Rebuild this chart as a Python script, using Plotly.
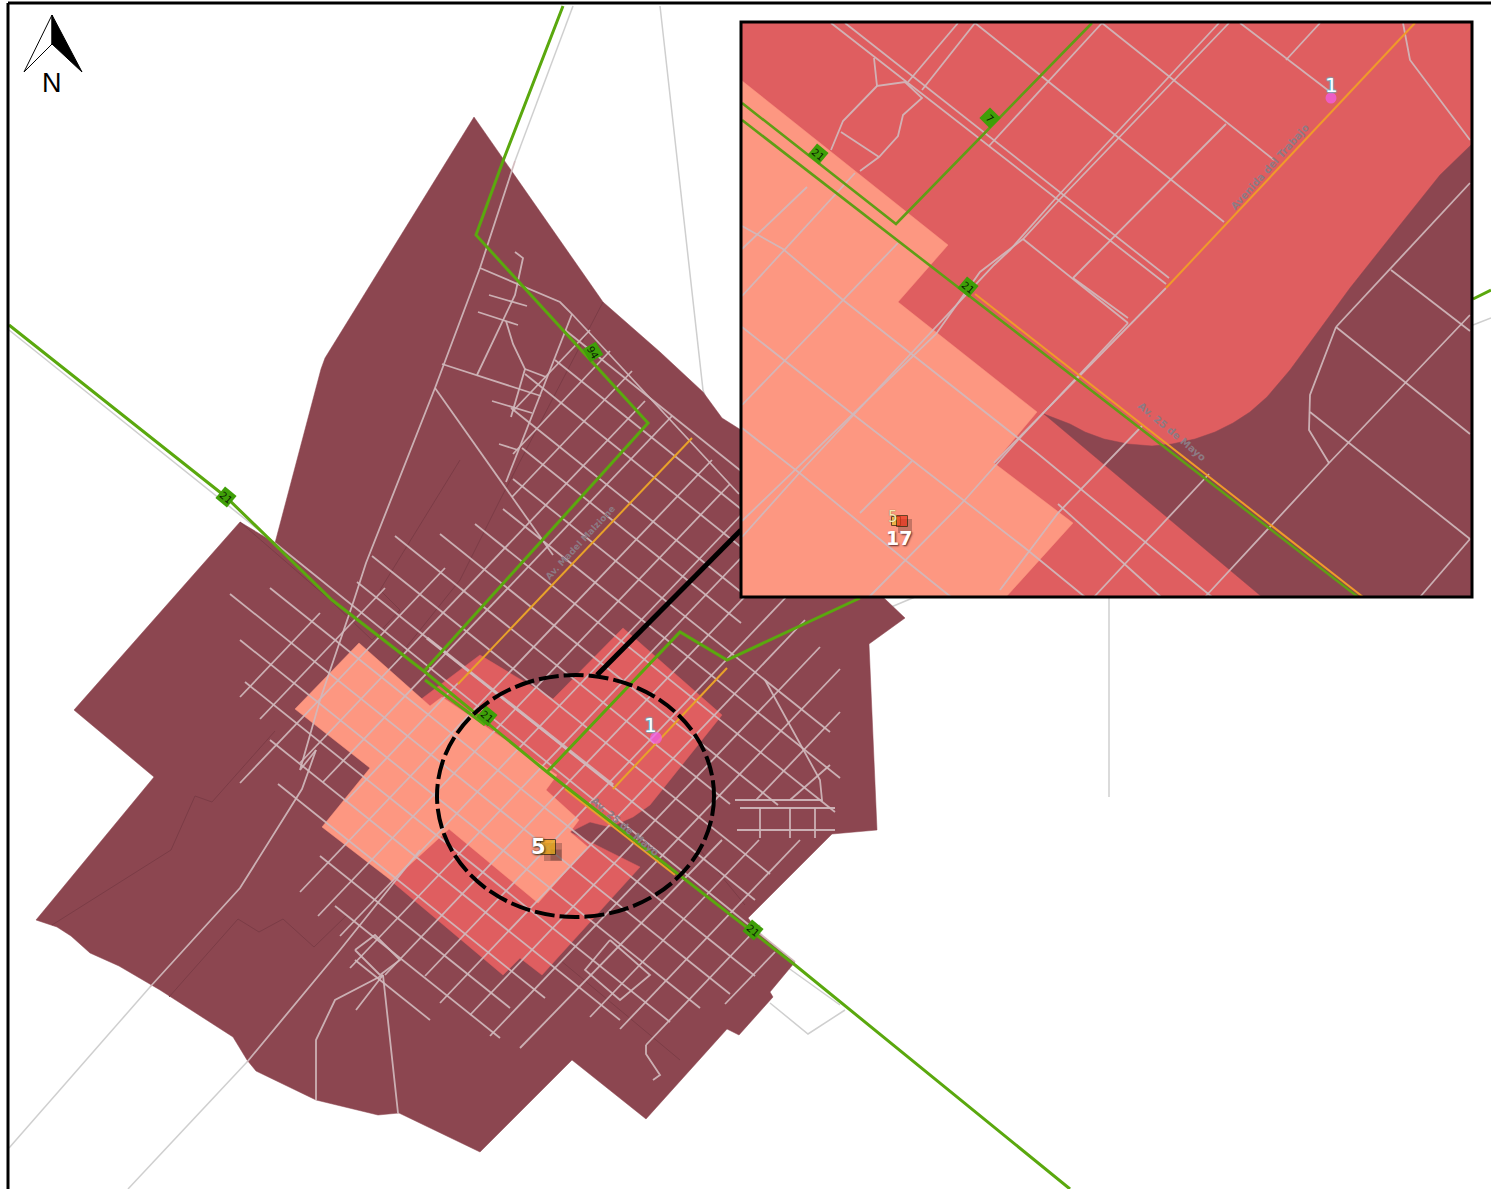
import plotly.graph_objects as go

# ---------- map data, in sheet units (x right, y down) ----------
CITY = [474,117, 540,212, 603,302, 660,352, 703,392, 722,418, 741,430, 800,500, 884,598, 905,618,
        869,644, 877,830, 832,834, 748,918, 763,937, 795,962, 770,992, 773,997, 753,1020, 739,1035,
        727,1029, 646,1119, 572,1060, 480,1152, 399,1113, 378,1115, 316,1100, 256,1071, 247,1060,
        233,1037, 160,990, 119,966, 90,953, 71,936, 57,927, 36,920, 154,777, 74,710, 240,522, 275,543,
        321,369, 325,358]
RED_MAIN = [480,655, 553,699, 623,628, 722,715, 698,745, 650,805, 633,817, 610,827, 590,822, 570,832,
            640,867, 542,975, 520,958, 503,975, 390,880, 420,700]
SALMON_MAIN = [359,643, 430,706, 442,697, 557,775, 546,790, 579,820, 570,832, 588,847, 538,903, 449,829,
               392,881, 322,827, 370,768, 295,709]
INSET_BOX = [741,22, 1472,22, 1472,597, 741,597]
INSET_DARK = [1472,144, 1440,175, 1400,225, 1350,288, 1290,370, 1267,397, 1250,412, 1233,423, 1215,432,
              1195,439, 1172,444, 1152,446, 1128,444, 1104,439, 1085,432, 1070,424, 1044,414, 1262,597, 1472,597]
INSET_SALMON = [741,80, 948,245, 898,302, 1037,412, 994,463, 1073,523, 1006,597, 741,597]
NORTH_LEFT = [52,15, 24,72, 52,44]
NORTH_RIGHT = [52,15, 82,72, 52,44]

FAINT = [
    [52,925, 171,850, 195,796, 212,802, 275,731],
    [169,997, 238,919, 259,932, 283,919, 314,947, 347,915],
    [388,670, 460,580, 500,500, 603,302],
    [240,522, 330,600, 372,640, 400,610, 380,590, 460,460],
    [425,710, 495,770, 440,840],
    [700,850, 745,905],
    [560,960, 680,1060],
]
OUTER_ROADS = [
    [573,6, 515,161],
    [660,6, 703,390, 739,494],
    [1109,598, 1109,797],
    [1473,325, 1491,318],
    [884,610, 915,597],
    [9,1148, 150,987],
    [128,1189, 247,1062],
    [787,967, 840,1005],
    [770,1003, 808,1034, 845,1010],
    [9,330, 226,503, 275,543],
]
ROADS = [
    [515,161, 480,268, 444,364, 435,388, 366,563, 354,600, 320,700, 300,770, 316,750],
    [435,388, 515,501, 553,555],
    [480,268, 560,302, 572,314, 739,494],
    [515,252, 523,258, 515,295, 477,375],
    [489,295, 527,306], [478,312, 518,325],
    [506,321, 513,344, 525,369, 511,417],
    [572,314, 506,482],
    [442,364, 541,396], [492,401, 532,413], [525,369, 546,377], [499,444, 518,450],
    [275,543, 795,962],
    [247,1062, 340,950, 420,850],
    [150,987, 240,888, 302,789, 316,750],
    [356,1010, 383,975, 398,1113],
    [316,1100, 316,1040, 335,1000, 383,975],
    [355,950, 375,935, 400,960, 380,975, 355,950],
    [740,808, 835,808], [737,830, 835,830], [760,808, 760,838], [790,808, 790,838], [815,808, 815,838],
    [735,800, 822,800, 820,780, 765,680],
    [646,1045, 646,1054, 660,1075, 653,1080],
    [610,940, 650,975, 620,1000, 585,970, 610,940],
]
# streets running north-west to south-east
CROSS_NW_SE = [
    [565,330, 741,471], [555,360, 741,509], [525,374, 741,547], [511,408, 741,592], [522,448, 741,623],
    [513,479, 830,732], [503,509, 840,778], [475,524, 835,812], [440,534, 778,805], [395,536, 730,804],
    [372,556, 770,874], [357,582, 755,900],
    [270,588, 755,976], [230,594, 730,994], [240,640, 700,1008], [245,682, 670,1022], [270,740, 620,1020],
    [278,784, 545,998], [320,856, 510,1008], [335,906, 500,1038], [355,960, 430,1020],
]
# streets running north-east to south-west
CROSS_NE_SW = [
    [590,330, 513,411], [610,351, 513,454], [632,371, 512,497], [645,401, 300,763], [672,416, 323,782],
    [458,683, 345,802], [712,460, 300,892], [730,484, 318,916], [745,511, 340,936], [760,538, 350,968],
    [775,565, 385,975], [790,593, 425,976], [805,620, 440,1003], [820,647, 470,1015], [840,669, 490,1036],
    [840,712, 756,800], [722,840, 520,1048], [830,765, 790,800], [759,840, 590,1017], [800,840, 620,1029],
    [760,925, 646,1045], [775,952, 725,1004],
    [445,568, 240,783], [385,588, 260,719], [320,613, 240,697],
]
MAIN_BOLD = [[427,638, 613,785]]
HIGHWAYS = [
    [9,325, 226,497, 332,600, 425,672, 547,772, 795,965, 1070,1189],
    [563,6, 503,161, 476,235, 648,423, 425,670],
    [547,772, 680,632, 727,660, 860,598],
    [1473,299, 1491,290],
    [425,680, 485,725],
]
ORANGE = [[692,438, 458,684], [727,668, 613,789], [565,789, 675,875]]
LEADER = [597,675, 741,530]

INSET_STREETS = [
    [831,23, 1166,284], [845,23, 1169,278], [975,23, 1224,222], [1102,23, 1274,160], [1240,23, 1329,91],
    [1023,239, 1128,323], [1073,278, 1128,318],
    [1229,23, 1061,198, 1023,239, 980,272, 936,334, 742,521],
    [1219,23, 1056,198, 1010,250, 994,265, 802,470, 742,537],
    [975,23, 922,90], [958,23, 908,82],
    [1102,23, 989,146], [1226,124, 1073,278], [1320,23, 1286,60],
    [1166,288, 994,463], [1128,323, 1018,440, 963,502, 905,560, 869,597],
    [1470,183, 1336,327], [1470,315, 1329,463, 1205,597],
    [1391,270, 1470,331], [1336,327, 1470,434], [1310,412, 1470,539], [1470,539, 1420,597],
    [1336,327, 1310,395, 1309,430, 1329,463],
    [742,226, 783,249, 843,300, 1037,453, 1212,597], [742,327, 850,412, 1025,548, 1085,597],
    [742,428, 802,475, 905,560, 951,597],
    [855,173, 742,296], [807,187, 742,249], [898,243, 742,405], [912,461, 860,513],
    [1142,426, 1058,513, 1000,590], [1209,474, 1094,597],
    [1058,504, 1161,597],
    [874,58, 877,86, 905,82, 922,98, 903,115, 898,136, 879,157, 860,171],
    [877,86, 843,121, 831,150], [841,132, 879,157],
    [1403,23, 1410,60, 1470,140],
]
INSET_HIGHWAYS = [[742,103, 896,224, 1092,23], [742,120, 1358,597]]
INSET_ORANGE = [[1415,23, 1166,288], [975,294, 1363,597]]

SHIELD_X = [226, 593, 487, 753, 818, 990, 968]
SHIELD_Y = [497, 352, 716, 930, 154, 118, 287]
SHIELD_TEXT = ["21", "94", "21", "21", "21", "7", "21"]
SHIELD_ANGLE = [40, 60, 40, 40, 40, 45, 40]
STREET_LABELS = [
    ("Av. Madel Malzione", 580, 543, -47, 9),
    ("Av. 25 de Mayo", 625, 826, 40, 10),
    ("Avenida del Trabajo", 1269, 167, -48, 10),
    ("Av. 25 de Mayo", 1172, 431, 40, 10),
]
COUNTS = [("1", 650, 725, 20, "#ffffff", "0 0 2px #22e0ff, 0 0 2px #22e0ff", "normal"),
          ("1", 1331, 85, 20, "#ffffff", "0 0 2px #22e0ff, 0 0 2px #22e0ff", "normal"),
          ("5", 538, 847, 21, "#ffffff", "0 0 2px #40351a, 1px 1px 2px #40351a", "bold"),
          ("5", 893, 517, 15, "#f3e9b5", "0 0 1px #6b5a1a", "normal"),
          ("17", 899, 538, 19, "#ffffff", "1px 1px 2px #5a2a2a", "bold")]


def xy(points):
    return points[0::2], points[1::2]


def joined(lines):
    xs, ys = [], []
    for line in lines:
        a, b = xy(line)
        xs += list(a) + [None]
        ys += list(b) + [None]
    return xs, ys


fig = go.Figure()


def area(points, colour, outline=None, width=0):
    x, y = xy(points)
    fig.add_trace(go.Scatter(x=list(x) + [x[0]], y=list(y) + [y[0]], mode="lines", fill="toself",
                             fillcolor=colour, line=dict(color=outline or colour, width=width or 0.5),
                             hoverinfo="skip", showlegend=False))


def paths(lines, colour, width, dash=None):
    x, y = joined(lines)
    fig.add_trace(go.Scatter(x=x, y=y, mode="lines", line=dict(color=colour, width=width, dash=dash),
                             connectgaps=False, hoverinfo="skip", showlegend=False))


DARK = "#8c4650"
RED = "#df5e60"
SALMON = "#fd9781"
STREET = "rgba(208,184,188,0.92)"
GREEN = "#5aa80e"

paths(OUTER_ROADS, "#cfcfcf", 1.5)
area(CITY, DARK)
paths(FAINT, "#7b3c46", 1)
area(RED_MAIN, RED)
area(SALMON_MAIN, SALMON)
paths(ROADS, STREET, 1.8)
paths(CROSS_NW_SE, STREET, 1.8)
paths(CROSS_NE_SW, STREET, 1.8)
paths(MAIN_BOLD, STREET, 3)
paths(ORANGE, "#e8a22a", 2)
paths(HIGHWAYS, GREEN, 3)
paths([LEADER], "#000000", 5)

area(INSET_BOX, RED)
area(INSET_DARK, DARK)
area(INSET_SALMON, SALMON)
paths(INSET_STREETS, STREET, 1.8)
paths(INSET_ORANGE, "#f09a2a", 2)
paths(INSET_HIGHWAYS, "#5f9e15", 2.6)

area(NORTH_LEFT, "#ffffff", "#000000", 1)
area(NORTH_RIGHT, "#000000", "#000000", 1)

fig.add_trace(go.Scatter(x=[553, 556, 905], y=[852, 855, 526], mode="markers",
                         marker=dict(symbol="square", size=[18, 11, 14], color="rgba(50,25,25,0.28)",
                                     line=dict(width=0), opacity=1),
                         hoverinfo="skip", showlegend=False))
fig.add_trace(go.Scatter(x=[548, 896, 902], y=[847, 521, 521], mode="markers",
                         marker=dict(symbol="square", size=[15, 9, 11], color=["#e8ad10", "#e8bf30", "#e8341c"],
                                     line=dict(color="#2a2000", width=1)),
                         hoverinfo="skip", showlegend=False))
fig.add_trace(go.Scatter(x=[656, 1331], y=[738, 98], mode="markers",
                         marker=dict(size=[12, 11], color="#f25cf0", line=dict(width=0)),
                         hoverinfo="skip", showlegend=False))
fig.add_trace(go.Scatter(x=SHIELD_X, y=SHIELD_Y, mode="markers",
                         marker=dict(symbol="square", size=15, color="#3f9f08", angle=SHIELD_ANGLE,
                                     line=dict(width=0)),
                         hoverinfo="skip", showlegend=False))

notes = []
for label, x, y, angle in zip(SHIELD_TEXT, SHIELD_X, SHIELD_Y, SHIELD_ANGLE):
    notes.append(dict(x=x, y=y, text=label, showarrow=False, textangle=angle,
                      font=dict(family="DejaVu Sans", size=10, color="#0a1a05")))
for label, x, y, angle, size in STREET_LABELS:
    notes.append(dict(x=x, y=y, text=label, showarrow=False, textangle=angle,
                      font=dict(family="DejaVu Sans", size=size, color="#8d7b84", weight="bold")))
for label, x, y, size, colour, halo, weight in COUNTS:
    notes.append(dict(x=x, y=y, text=label, showarrow=False,
                      font=dict(family="DejaVu Sans", size=size, color=colour, shadow=halo, weight=weight)))
notes.append(dict(x=52, y=83, text="N", showarrow=False,
                  font=dict(family="Liberation Sans", size=27, color="#000000")))

fig.update_layout(
    width=1491, height=1189, margin=dict(l=0, r=0, t=0, b=0),
    paper_bgcolor="#ffffff", plot_bgcolor="#ffffff", showlegend=False, annotations=notes,
    xaxis=dict(range=[0, 1491], visible=False, fixedrange=True),
    yaxis=dict(range=[1189, 0], visible=False, fixedrange=True),
    shapes=[
        dict(type="circle", x0=437, x1=714, y0=675, y1=917,
             line=dict(color="#000000", width=4, dash="20px,5px")),
        dict(type="rect", x0=741, x1=1472, y0=22, y1=597, line=dict(color="#000000", width=3)),
        dict(type="line", x0=8, x1=8, y0=3, y1=1189, line=dict(color="#000000", width=3)),
        dict(type="line", x0=8, x1=1491, y0=3, y1=3, line=dict(color="#000000", width=3)),
    ],
)
fig.write_html("out.html", config=dict(displayModeBar=False),
               post_script="document.body.style.margin='0';")
